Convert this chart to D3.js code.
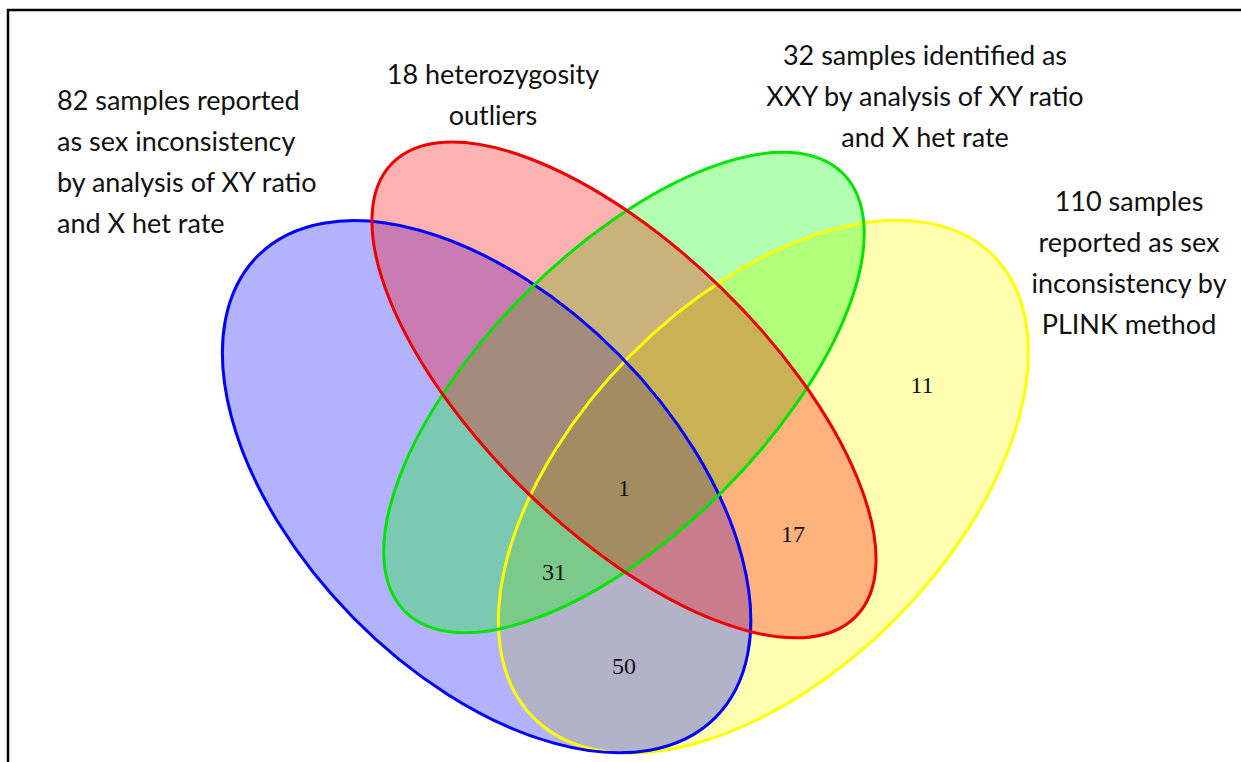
<!DOCTYPE html>
<html>
<head>
<meta charset="utf-8">
<script src="https://cdn.jsdelivr.net/npm/d3@7"></script>
<style>
  html, body { margin: 0; padding: 0; background: #ffffff; }
  svg { display: block; }
</style>
</head>
<body>
<svg id="chart" width="1241" height="762"></svg>
<script>
// ---- data ----
const setNames = ["blue", "red", "green", "yellow"];
const setCounts = [82, 18, 32, 110];
const setLabels = [
  ["82 samples reported", "as sex inconsistency", "by analysis of XY ratio", "and X het rate"],
  ["18 heterozygosity", "outliers"],
  ["32 samples identified as", "XXY by analysis of XY ratio", "and X het rate"],
  ["110 samples", "reported as sex", "inconsistency by", "PLINK method"]
];
const regionValues = [11, 17, 1, 31, 50];

// ---- layout (unit space, mapped through scales) ----
const ellipses = [ // draw order: yellow, blue, green, red
  {set: "yellow", cx: 0.6488, cy: 0.4158, a: 0.3505, b: 0.2010, angle: -45.3, fill: "#ffff00", stroke: "#ffff00"},
  {set: "blue",   cx: 0.3512, cy: 0.4158, a: 0.3495, b: 0.2010, angle: 45.4,  fill: "#0000ff", stroke: "#0000ff"},
  {set: "green",  cx: 0.4989, cy: 0.3145, a: 0.3330, b: 0.1502, angle: -45.0, fill: "#00ff00", stroke: "#00e600"},
  {set: "red",    cx: 0.4989, cy: 0.3118, a: 0.3486, b: 0.1516, angle: 44.3,  fill: "#ff0000", stroke: "#ee0000"}
];
const regionPos = [[0.8194, 0.3065], [0.6807, 0.4667], [0.4989, 0.4172], [0.4237, 0.5075], [0.4989, 0.6086]];
const labelLayout = [
  {x: 57,   y: 110, anchor: "start"},
  {x: 493,  y: 84,  anchor: "middle"},
  {x: 925,  y: 65,  anchor: "middle"},
  {x: 1129, y: 211, anchor: "middle"}
];
const lineGap = 41;

const svg = d3.select("#chart");
const x = d3.scaleLinear().domain([0, 1]).range([160, 1090]);
const y = d3.scaleLinear().domain([0, 1]).range([100, 1030]);
const len = d3.scaleLinear().domain([0, 1]).range([0, 930]);

// frame
svg.append("path")
  .attr("d", "M8,800 L8,10 L1260,10")
  .attr("fill", "none").attr("stroke", "#000").attr("stroke-width", 2.5);

function place(sel) {
  return sel
    .attr("cx", d => x(d.cx)).attr("cy", d => y(d.cy))
    .attr("rx", d => len(d.a)).attr("ry", d => len(d.b))
    .attr("transform", d => `rotate(${d.angle},${x(d.cx)},${y(d.cy)})`);
}

// fills
svg.append("g").selectAll("ellipse").data(ellipses).join("ellipse")
  .call(place)
  .attr("fill", d => d.fill).attr("fill-opacity", 0.3)
  .attr("stroke", "none");

// outlines on top
svg.append("g").selectAll("ellipse").data(ellipses).join("ellipse")
  .call(place)
  .attr("fill", "none")
  .attr("stroke", d => d.stroke).attr("stroke-width", 3);

// region counts
svg.selectAll("text.region").data(regionValues).join("text")
  .attr("class", "region")
  .attr("x", (d, i) => x(regionPos[i][0]))
  .attr("y", (d, i) => y(regionPos[i][1]))
  .attr("text-anchor", "middle").attr("dominant-baseline", "central")
  .attr("font-family", "'Liberation Serif', 'Times New Roman', serif")
  .attr("font-size", 24).attr("fill", "#111")
  .text(d => d);

// set labels
setLabels.forEach((lines, i) => {
  const L = labelLayout[i];
  const t = svg.append("text")
    .attr("font-family", "Lato, 'Open Sans', sans-serif")
    .attr("font-size", 27).attr("fill", "#111")
    .attr("text-anchor", L.anchor);
  lines.forEach((ln, j) => {
    t.append("tspan").attr("x", L.x).attr("y", L.y + j * lineGap).text(ln);
  });
});
</script>
</body>
</html>
